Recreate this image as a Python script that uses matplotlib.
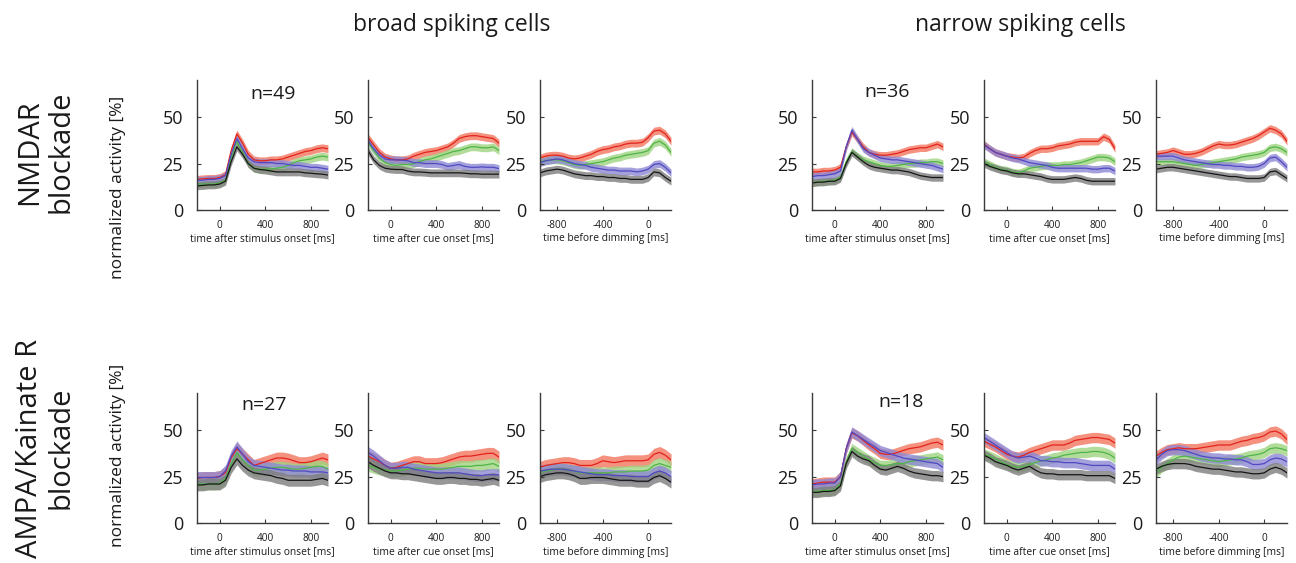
import numpy as np
import matplotlib
matplotlib.use("Agg")
from matplotlib import pyplot as plt

plt.rcParams["font.family"] = ["Open Sans", "DejaVu Sans"]
plt.rcParams["axes.unicode_minus"] = False

# time grids (ms)
t_stim = np.arange(-200, 951, 50)
t_cue = np.arange(-200, 951, 50)
t_dim = np.arange(-950, 201, 50)

# each panel: [red, green, blue, black] mean activity (%)
nmdar_broad_stim = [
    [16.5, 16.8, 17, 17, 17.5, 19, 32, 41, 36, 30, 27, 26.5, 26.5, 27, 27, 27.5, 28.5, 29.5, 30.5, 31.5, 32, 33, 33.5, 33],
    [14, 14, 14, 14, 14.5, 16, 28, 37, 31, 25, 22.5, 22, 22, 22, 22.5, 23, 24, 25.5, 26.5, 27, 27.5, 28.5, 29, 28.5],
    [16, 16, 16.5, 16.5, 17, 18.5, 30, 38.5, 33, 28, 26, 25.5, 25.5, 25.5, 25, 25, 24.5, 24, 24, 23.5, 23, 23, 22.5, 22],
    [13, 13.2, 13.5, 13.5, 14, 15.5, 26, 34, 30, 25, 22.5, 21.8, 21.5, 21, 20.5, 20.5, 20.5, 20.5, 20.5, 20, 19.8, 19.5, 19.3, 18.8],
]
nmdar_broad_cue = [
    [39, 35, 31, 28.5, 27.5, 27, 27, 27.5, 29, 30, 31, 31.5, 32, 33, 34, 36, 38.5, 39.5, 40, 40, 39.5, 39, 38.5, 36],
    [36.5, 32, 28, 25.5, 24.5, 24, 24.5, 24.5, 25, 26, 27, 27.5, 28.5, 29.5, 30.5, 31.5, 32, 33, 34, 34, 33.5, 33.5, 34, 32],
    [37.5, 33, 29.5, 27.5, 27, 27, 26.8, 26.5, 25.5, 25.5, 25, 25, 25, 24.5, 23.5, 24, 24.5, 23.5, 23, 23, 23.2, 23, 23, 22.3],
    [32, 27, 24, 22.5, 22, 21.8, 21.8, 21, 20.5, 20.5, 20.3, 20, 20, 20, 20, 20, 20, 19.8, 19.5, 19.5, 19.3, 19.3, 19.3, 19.3],
]
nmdar_broad_dim = [
    [28, 29, 29.5, 29.5, 29, 28, 27.5, 28, 29, 30, 31.5, 32.5, 33, 34, 34.5, 35.5, 36, 36, 36.5, 39, 42.5, 43, 41, 37],
    [26, 26.5, 27, 27, 26.5, 25.5, 24.5, 24, 24.5, 25, 25.5, 26, 27, 28, 28.5, 29.5, 30, 30.5, 31, 32, 36, 37, 35, 31],
    [25.5, 26.5, 27, 27.5, 27, 26, 25, 24.5, 24, 23, 22.5, 22, 21.5, 21.5, 21, 21, 21, 20.5, 21, 22, 24.5, 25, 23, 20],
    [20, 21, 21.5, 22, 21.5, 20.5, 19.5, 19, 18.5, 18.5, 18, 18, 17.5, 17.5, 17, 17, 16.5, 16.5, 16.5, 17.5, 20.5, 20, 17.5, 15.5],
]
nmdar_narrow_stim = [
    [20.5, 20.5, 21, 21, 21.5, 23, 34, 42, 38, 34, 31, 30, 29.5, 29.5, 30, 30.5, 31.5, 32.5, 33, 33.5, 33.5, 34.5, 35.5, 34],
    [15, 15, 15.5, 15.5, 16, 17.5, 26, 31.5, 29, 27, 26, 25, 24, 23.5, 23.5, 24, 24.5, 25, 25, 25.5, 25.5, 26, 26, 25],
    [18, 18.5, 18.5, 19, 19.5, 21, 34, 43, 38, 33, 31, 29.5, 28, 27.5, 27, 27, 26.5, 26, 25.5, 25, 24.5, 24, 23, 22],
    [14.5, 15, 15, 15.5, 15.5, 17, 25, 31, 28.5, 26, 24, 23, 22.5, 22, 21.5, 21.5, 21, 20.5, 19.5, 18.5, 18, 17.5, 17.5, 17.5],
]
nmdar_narrow_cue = [
    [35.5, 33, 31, 30, 29, 28.5, 28, 28.5, 30.5, 32, 33, 33, 33.5, 34.5, 35, 35.5, 36.5, 37, 37, 37, 37, 39.5, 38, 33],
    [26, 24.5, 23, 22, 21.5, 20.5, 20, 21, 22.5, 23, 23.5, 24, 24, 24, 24.5, 24.5, 25, 25.5, 26.5, 27.5, 28.5, 28.5, 28, 26],
    [35, 33, 31, 30, 29, 28, 27.5, 26.5, 25.5, 25, 24.5, 24, 23, 22.5, 22.5, 22.5, 22.5, 22.5, 22.5, 22, 22, 22.5, 22.5, 21],
    [25, 23.5, 22.5, 21.5, 21, 20, 19.5, 19.5, 19, 18.5, 18, 17, 16.5, 16.5, 16.5, 17, 17.5, 17, 16, 15.5, 15.5, 15.5, 15.5, 15.5],
]
nmdar_narrow_dim = [
    [30, 30.5, 31, 32, 31, 30, 30, 30.5, 31.5, 33, 34.5, 35.5, 35, 35, 35.5, 36.5, 37.5, 38.5, 40, 42, 44, 43, 41, 37],
    [26, 26, 26, 26, 25.5, 25, 24.5, 24, 24.5, 25, 25.5, 26, 26.5, 27, 27.5, 28.5, 29, 29.5, 30, 31, 33.5, 34, 33, 31],
    [29, 29, 29, 29, 28, 27, 26.5, 26, 25.5, 25, 24.5, 24.5, 24, 24, 23.5, 23.5, 23, 23, 23.5, 25, 28, 28.5, 26, 23],
    [22, 22.5, 23, 23, 22.5, 22, 21.5, 21, 20.5, 20, 19.5, 19, 18.5, 18, 18, 17.5, 17, 17, 17, 17.5, 20.5, 21, 19, 17],
]
ampa_broad_stim = [
    [24, 24.5, 24.5, 24.5, 25, 27, 35, 40, 37, 34, 31, 32, 33, 34, 35, 35, 34.5, 33.5, 32.5, 32.5, 33, 34, 35, 34],
    [21, 21, 21, 21, 21.5, 24, 32, 38, 34, 31, 28.5, 28.5, 29, 29.5, 30, 30, 29.5, 29, 29, 29.5, 30, 30.5, 30.5, 29],
    [24.5, 24.5, 24.5, 24.5, 25, 28, 36, 41, 37, 33, 31, 30.5, 30, 29.5, 29, 28.5, 28.5, 28, 28, 28, 27.5, 27.5, 27.5, 27],
    [20.5, 20.5, 21, 21, 21, 23, 30, 34.5, 31, 28.5, 27, 26.5, 26, 25.5, 24.5, 24, 23, 23, 23, 23, 23, 23.5, 24, 23],
]
ampa_broad_cue = [
    [36, 34.5, 33, 31, 29.5, 30, 31, 32, 33, 33, 32, 32, 32, 32.5, 33.5, 34.5, 35.5, 36, 36, 36.5, 37, 37.5, 37.5, 35.5],
    [31, 30, 29, 28.5, 28, 28, 28.5, 29, 29.5, 29.5, 29, 29, 29, 29, 29.5, 30, 30.5, 30.5, 30.5, 31, 31, 31.5, 32, 30.5],
    [38, 36, 33.5, 31, 29.5, 29.5, 30, 30, 29, 28.5, 28, 27.5, 27, 27, 27, 27, 27, 26.5, 26, 25.5, 25.5, 26, 26, 26],
    [33, 31, 29.5, 28, 27, 27, 26.5, 26.5, 26, 25.5, 25, 24.5, 24, 24, 24.5, 24.5, 24, 24, 23.5, 23.5, 23, 23.5, 24, 23],
]
ampa_broad_dim = [
    [30, 31, 31.5, 32, 32.5, 32.5, 32, 31, 31, 31, 32, 33.5, 33, 32.5, 33, 33.5, 33.5, 33.5, 33.5, 34, 37, 38, 36.5, 34],
    [27, 28, 28.5, 29, 29, 28.5, 28, 27, 27, 27, 27, 27, 27, 27.5, 27.5, 27.5, 28, 28, 28, 28.5, 31, 32, 31, 30],
    [28, 28.5, 29, 29, 29, 28.5, 28, 27.5, 27, 26.5, 26, 26, 26, 25.5, 25.5, 25.5, 25, 25, 25, 25, 27, 28, 27, 25],
    [25, 26, 26.5, 27, 27, 26.5, 25.5, 24, 24, 24.5, 24.5, 24.5, 24, 23.5, 23, 23, 23, 22.5, 22.5, 22.5, 24.5, 25.5, 24, 22],
]
ampa_narrow_stim = [
    [21, 21.5, 22, 22, 22, 25, 40, 48.5, 47, 44.5, 42, 40, 37.5, 37, 37, 38, 39, 40, 40.5, 41, 42, 43, 43.5, 42],
    [17, 17, 17.5, 17.5, 18, 21, 33, 40, 38, 36, 34, 32.5, 31, 31, 31.5, 32, 32, 33, 33.5, 34, 34.5, 35, 35.5, 34],
    [20.5, 21, 21, 21.5, 21.5, 25, 40, 49, 47, 45, 43, 41, 39, 38, 37, 36, 35, 34.5, 34, 33.5, 33, 32.5, 32, 30],
    [16.5, 16.5, 17, 17, 17.5, 20, 32, 38.5, 36, 34.5, 33.5, 31, 29, 28.5, 29.5, 30.5, 29.5, 28, 27, 26.5, 26, 25.5, 25.5, 25],
]
ampa_narrow_cue = [
    [44, 42.5, 41, 39, 37, 36, 35.5, 36.5, 38, 39, 40, 41, 42, 42, 42, 43, 44.5, 45, 45.5, 46, 46, 45.5, 45, 43],
    [37, 36, 34.5, 33, 31.5, 30.5, 30, 30.5, 31.5, 32.5, 33.5, 34, 35, 35.5, 36.5, 37, 37.5, 38, 38, 38.5, 38.5, 38, 37, 35],
    [46, 44, 42, 40, 38, 36, 35, 35.5, 36, 35, 33.5, 33.5, 33, 33, 32.5, 32.5, 32.5, 32, 31.5, 31, 31, 31, 31, 29],
    [36.5, 35, 33, 32, 31, 29.5, 28.5, 29.5, 30.5, 28.5, 27, 26.5, 26.5, 26, 26, 26, 26, 26, 25.5, 25.5, 25.5, 25.5, 25.5, 24],
]
ampa_narrow_dim = [
    [36, 38, 39.5, 40, 40.5, 40, 40, 40, 40.5, 41, 41.5, 42, 42, 42, 43, 44, 44.5, 45.5, 46, 47, 49, 49.5, 48, 45],
    [27, 30, 32, 34, 35.5, 36, 35.5, 35, 34.5, 34, 33.5, 33, 33.5, 34, 34.5, 35, 36, 36.5, 37, 38, 40, 40.5, 40, 39],
    [34, 37, 39, 39.5, 39.5, 39, 38, 37, 36, 35.5, 35, 35, 34.5, 34.5, 34, 34, 33, 31.5, 31.5, 32, 34, 35, 34.5, 33],
    [29, 30.5, 31.5, 32, 32, 32, 31.5, 30.5, 30, 29.5, 29, 29, 28.5, 28, 27.5, 27.5, 27, 26.5, 26.5, 27, 29, 30, 29, 27],
]

# half-width of the shaded error band per row/group
sem_nmdar_broad = 2.1
sem_nmdar_narrow = 2.0
sem_ampa_broad = 3.2
sem_ampa_narrow = 2.8

n_labels = ["n=49", "n=36", "n=27", "n=18"]
xlabels = ["time after stimulus onset [ms]", "time after cue onset [ms]", "time before dimming [ms]"]

line_colors = ["#e3231c", "#4fb548", "#5149c2", "#151515"]
band_colors = ["#f2765f", "#9fd480", "#8e88d4", "#7d7d7d"]
axis_color = "#3a3a3a"
text_color = "#1a1a1a"

fig = plt.figure(figsize=(12.96, 5.63), dpi=100)


def add_panel(left_px, top_px, t, series, sem, xlabel, xticks, xlim):
    ax = fig.add_axes([left_px / 1296, 1 - (top_px + 130) / 563, 131 / 1296, 130 / 563])
    for vals, bc in zip(series, band_colors):
        v = np.array(vals)
        ax.fill_between(t, v - sem, v + sem, color=bc, alpha=0.8, lw=0)
    for vals, lc in zip(series, line_colors):
        ax.plot(t, vals, color=lc, lw=0.9)
    ax.set_xlim(*xlim)
    ax.set_ylim(0, 70)
    ax.set_yticks([0, 25, 50])
    ax.set_xticks(xticks)
    ax.spines["top"].set_visible(False)
    ax.spines["right"].set_visible(False)
    for s in ("left", "bottom"):
        ax.spines[s].set_color(axis_color)
        ax.spines[s].set_linewidth(1.0)
    ax.tick_params(direction="in", length=3, width=0.8, color=axis_color)
    ax.tick_params(axis="y", labelsize=13, pad=10, labelcolor=text_color)
    ax.tick_params(axis="x", labelsize=7.2, pad=7, labelcolor=text_color)
    ax.set_xlabel(xlabel, fontsize=7.4, labelpad=2, color=text_color)
    return ax


rows = [
    (80, [nmdar_broad_stim, nmdar_broad_cue, nmdar_broad_dim], sem_nmdar_broad,
     [nmdar_narrow_stim, nmdar_narrow_cue, nmdar_narrow_dim], sem_nmdar_narrow),
    (393, [ampa_broad_stim, ampa_broad_cue, ampa_broad_dim], sem_ampa_broad,
     [ampa_narrow_stim, ampa_narrow_cue, ampa_narrow_dim], sem_ampa_narrow),
]
group_lefts = [[197, 368, 540], [812, 984, 1156]]
times = [t_stim, t_cue, t_dim]
ticks = [[0, 400, 800], [0, 400, 800], [-800, -400, 0]]
lims = [(-200, 950), (-200, 950), (-950, 200)]
n_pos = [(0.58, 0.89), (0.57, 0.91), (0.51, 0.91), (0.68, 0.93)]

k = 0
for top, broad, sem_b, narrow, sem_n in rows:
    for g, (panels, sem) in enumerate([(broad, sem_b), (narrow, sem_n)]):
        for j in range(3):
            ax = add_panel(group_lefts[g][j], top, times[j], panels[j], sem,
                           xlabels[j], ticks[j], lims[j])
            if j == 0:
                ax.text(n_pos[k][0], n_pos[k][1], n_labels[k], transform=ax.transAxes,
                        ha="center", va="center", fontsize=14, color=text_color)
                k += 1

fig.text(452 / 1296, 1 - 25 / 563, "broad spiking cells", ha="center", va="center",
         fontsize=16.5, color=text_color)
fig.text(1020 / 1296, 1 - 25 / 563, "narrow spiking cells", ha="center", va="center",
         fontsize=16.5, color=text_color)

fig.text(45 / 1296, 1 - 152 / 563, "NMDAR\nblockade", rotation=90, ha="center", va="center",
         fontsize=21, linespacing=1.1, multialignment="center", color=text_color)
fig.text(45 / 1296, 1 - 448 / 563, "AMPA/Kainate R\nblockade", rotation=90, ha="center",
         va="center", fontsize=21, linespacing=1.1, multialignment="center", color=text_color)
fig.text(118 / 1296, 1 - 187 / 563, "normalized activity [%]", rotation=90, ha="center",
         va="center", fontsize=12.5, color=text_color)
fig.text(118 / 1296, 1 - 455 / 563, "normalized activity [%]", rotation=90, ha="center",
         va="center", fontsize=12.5, color=text_color)

fig.savefig("out.png", dpi=100)
